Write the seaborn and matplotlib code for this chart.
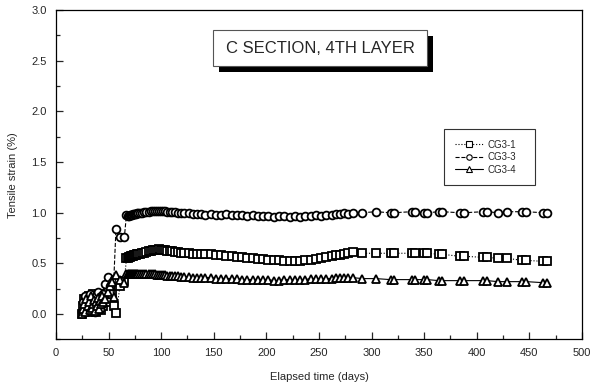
import numpy as np
import pandas as pd
import matplotlib.pyplot as plt
import matplotlib.patches as mpatches
from matplotlib.ticker import MultipleLocator
import seaborn as sns

sns.set_style('ticks')
plt.rcParams['font.family'] = ['Liberation Sans', 'DejaVu Sans']

# 측정 시간 (days)
days_early = [25, 26, 27, 28, 29, 30, 31, 32, 33, 34, 35, 36, 37, 38, 39, 40,
              41, 42, 43, 44, 45, 47, 49, 51, 53, 55]
days_jump = [57, 61, 65]
days_main = [67, 68, 69, 70, 71, 72, 73, 74, 75, 76, 77, 78,
             80, 82, 84, 86, 88, 90, 92, 94, 96, 98, 100, 102, 104, 106, 108, 110,
             113, 116, 119, 122,
             126, 130, 134, 138, 142,
             147, 152, 157, 162, 167, 172, 177, 182, 187, 192, 197, 202,
             207, 212, 217, 222, 227, 232, 237, 242, 247, 252, 257, 262,
             266, 270, 274, 278, 282]
days_late = [291, 304, 318, 321, 338, 341, 350, 353, 364, 367, 384, 388,
             406, 410, 420, 429, 443, 447, 463, 467]

# CG3-1
cg31_early = [0.00, 0.08, 0.15, 0.05, 0.12, 0.02, 0.18, 0.10, 0.04, 0.14, 0.20, 0.06, 0.12,
              0.02, 0.16, 0.08, 0.20, 0.10, 0.04, 0.15, 0.08, 0.18, 0.22, 0.12, 0.20, 0.08]
cg31_jump = [0.01, 0.28, 0.33]
cg31_main = [0.55, 0.55, 0.56, 0.56, 0.57, 0.57, 0.57, 0.58, 0.58, 0.58, 0.59, 0.59,
             0.59, 0.60, 0.60, 0.61, 0.62, 0.62, 0.63, 0.63, 0.63, 0.64, 0.63, 0.63, 0.63, 0.62, 0.62, 0.62,
             0.61, 0.61, 0.60, 0.60,
             0.60, 0.59, 0.59, 0.59, 0.59,
             0.59, 0.58, 0.58, 0.57, 0.57, 0.56, 0.56, 0.55, 0.55, 0.54, 0.54, 0.53,
             0.53, 0.53, 0.52, 0.52, 0.52, 0.52, 0.53, 0.53, 0.54, 0.55, 0.56, 0.57,
             0.58, 0.58, 0.59, 0.60, 0.61]
cg31_late = [0.60, 0.60, 0.60, 0.60, 0.60, 0.60, 0.60, 0.60, 0.59, 0.59, 0.57, 0.57,
             0.56, 0.56, 0.55, 0.55, 0.53, 0.53, 0.52, 0.52]

# CG3-3
cg33_early = [0.02, 0.12, 0.05, 0.18, 0.08, 0.14, 0.03, 0.20, 0.10, 0.06, 0.16, 0.12, 0.02,
              0.18, 0.08, 0.22, 0.12, 0.05, 0.18, 0.10, 0.20, 0.30, 0.37, 0.28, 0.32, 0.35]
cg33_jump = [0.84, 0.76, 0.76]
cg33_main = [0.98, 0.97, 0.97, 0.98, 0.98, 0.98, 0.99, 0.99, 0.99, 0.99, 1.00, 1.00,
             1.00, 1.00, 1.01, 1.01, 1.01, 1.02, 1.02, 1.02, 1.02, 1.02, 1.02, 1.02, 1.02, 1.01, 1.01, 1.01,
             1.01, 1.00, 1.00, 1.00,
             1.00, 0.99, 0.99, 0.99, 0.98,
             0.99, 0.98, 0.98, 0.99, 0.98, 0.98, 0.98, 0.97, 0.98, 0.97, 0.97, 0.97,
             0.96, 0.97, 0.97, 0.96, 0.97, 0.96, 0.97, 0.97, 0.98, 0.97, 0.98, 0.98,
             0.99, 0.99, 1.00, 0.99, 1.00]
cg33_late = [1.00, 1.01, 1.00, 1.00, 1.01, 1.01, 1.00, 1.00, 1.01, 1.01, 1.00, 1.00,
             1.01, 1.01, 1.00, 1.01, 1.01, 1.01, 1.00, 1.00]

# CG3-4
cg34_early = [0.00, 0.05, 0.10, 0.02, 0.15, 0.08, 0.12, 0.04, 0.18, 0.06, 0.10, 0.14, 0.03,
              0.12, 0.08, 0.16, 0.05, 0.13, 0.10, 0.18, 0.12, 0.15, 0.22, 0.28, 0.32, 0.17]
cg34_jump = [0.39, 0.34, 0.31]
cg34_main = [0.40, 0.40, 0.40, 0.40, 0.40, 0.40, 0.40, 0.40, 0.40, 0.40, 0.40, 0.40,
             0.40, 0.40, 0.40, 0.40, 0.40, 0.40, 0.40, 0.40, 0.39, 0.39, 0.39, 0.39, 0.39, 0.38, 0.38, 0.38,
             0.38, 0.38, 0.37, 0.37,
             0.37, 0.36, 0.36, 0.36, 0.36,
             0.36, 0.35, 0.35, 0.35, 0.35, 0.35, 0.34, 0.34, 0.34, 0.34, 0.34, 0.34,
             0.33, 0.33, 0.34, 0.34, 0.34, 0.34, 0.34, 0.35, 0.35, 0.35, 0.35, 0.35,
             0.36, 0.36, 0.36, 0.36, 0.36]
cg34_late = [0.35, 0.35, 0.34, 0.34, 0.34, 0.34, 0.34, 0.34, 0.33, 0.33, 0.33, 0.33,
             0.33, 0.33, 0.32, 0.32, 0.32, 0.32, 0.31, 0.31]

days = days_early + days_jump + days_main + days_late
series = [
    ('CG3-1', cg31_early + cg31_jump + cg31_main + cg31_late, 's', ':', 5.2),
    ('CG3-3', cg33_early + cg33_jump + cg33_main + cg33_late, 'o', '--', 5.6),
    ('CG3-4', cg34_early + cg34_jump + cg34_main + cg34_late, '^', '-', 6.0),
]

fig = plt.figure(figsize=(5.9, 3.87), dpi=100)
ax = fig.add_axes([0.0949, 0.123, 0.8915, 0.851])

for name, vals, mk, ls, ms in series:
    sns.lineplot(x=days, y=vals, ax=ax, color='black', linestyle=ls, lw=0.8,
                 marker=mk, markersize=ms, markerfacecolor='white',
                 markeredgecolor='black', markeredgewidth=1.3,
                 sort=False, estimator=None, label=name)

ax.set_xlim(0, 500)
ax.set_ylim(-0.25, 3.0)
ax.xaxis.set_major_locator(MultipleLocator(50))
ax.xaxis.set_minor_locator(MultipleLocator(25))
ax.yaxis.set_major_locator(MultipleLocator(0.5))
ax.yaxis.set_minor_locator(MultipleLocator(0.25))
ax.yaxis.set_major_formatter(plt.FormatStrFormatter('%.1f'))
ax.tick_params(which='both', direction='in', top=False, right=False, labelsize=8, width=0.9)
ax.tick_params(which='major', length=5, pad=6.5)
ax.tick_params(which='minor', length=3)
for s in ax.spines.values():
    s.set_linewidth(0.9)
    s.set_color('black')

ax.set_xlabel('Elapsed time (days)', fontsize=8, labelpad=10)
ax.set_ylabel('Tensile strain (%)', fontsize=8, labelpad=10)

# 제목 박스 (그림자 포함)
ax.add_patch(mpatches.Rectangle((0.3099, 0.8118), 0.407, 0.109, transform=ax.transAxes,
                                facecolor='black', edgecolor='none', zorder=5))
ax.add_patch(mpatches.Rectangle((0.2985, 0.830), 0.407, 0.109, transform=ax.transAxes,
                                facecolor='white', edgecolor='#555555', lw=0.8, zorder=6))
ax.text(0.502, 0.8845, 'C SECTION, 4TH LAYER', transform=ax.transAxes, fontsize=12,
        ha='center', va='center', zorder=7)

leg = ax.legend(loc='upper left', bbox_to_anchor=(0.7376, 0.469, 0.173, 0.17), mode='expand',
                borderaxespad=0, fontsize=7, fancybox=False, framealpha=1, edgecolor='#333333',
                handlelength=2.9, handletextpad=0.45, markerscale=0.7,
                labelspacing=0.25, borderpad=1.1)
leg.get_frame().set_linewidth(0.8)
for h in leg.get_lines():
    h.set_markeredgewidth(0.8)

fig.savefig('out.png', dpi=100)
